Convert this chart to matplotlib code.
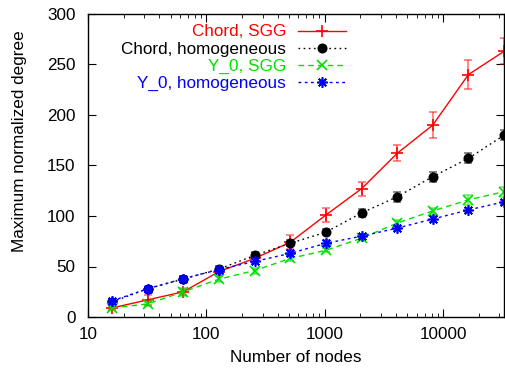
import matplotlib
matplotlib.use("Agg")
import matplotlib.pyplot as plt
from matplotlib.ticker import LogLocator, NullFormatter, FixedLocator

plt.rcParams['font.family'] = ['Liberation Sans', 'DejaVu Sans']

nodes = [16, 32, 64, 128, 256, 512, 1024, 2048, 4096, 8192, 16384, 32768]
chord_sgg = [9, 17, 25, 45, 58, 74, 101, 127, 162, 190, 240, 263]
chord_sgg_err = [2, 5, 3, 3, 5, 7, 7, 7, 8, 13, 14, 13]
chord_hom = [15, 28, 37.6, 47.5, 61, 73, 84, 103, 119, 139, 157, 180]
chord_hom_err = [2, 2, 3, 3, 3, 3, 3, 4, 5, 5, 5, 5]
y0_sgg = [9, 13, 25, 37.5, 46, 58, 66, 78, 93, 105, 116, 124]
y0_sgg_err = [2, 2, 4, 3, 3, 3, 2, 2, 3, 3, 5, 5]
y0_hom = [16, 28, 38, 47, 55, 63, 73, 80, 88, 97, 106, 114]
y0_hom_err = [2, 2, 2, 2, 3, 3, 3, 2, 2, 3, 2, 2]

labels = ["Chord, SGG", "Chord, homogeneous", "Y_0, SGG", "Y_0, homogeneous"]
colors = ["#ff0000", "#000000", "#00e000", "#0000ff"]

FS = 12.3
W, H = 505, 375
fig = plt.figure(figsize=(W/100, H/100), dpi=100)
ax = fig.add_axes([88/W, (H-317)/H, (504-88)/W, (317-14)/H])

series = [
    (chord_sgg, chord_sgg_err, '+', '-', 8, 1.0),
    (chord_hom, chord_hom_err, 'o', (0, (1.2, 2.5)), 6, 1.0),
    (y0_sgg, y0_sgg_err, 'x', (0, (4, 3)), 6.5, 1.0),
    (y0_hom, y0_hom_err, (8, 2, 0), (0, (2, 2.5)), 7.5, 1.0),
]
handles = []
for (vals, errs, mk, ls, ms, lw), lab, c in zip(series, labels, colors):
    ax.errorbar(nodes, vals, yerr=errs, fmt='none', ecolor=c, alpha=0.55,
                elinewidth=1.2, capsize=3, capthick=1.2)
    h, = ax.plot(nodes, vals, color=c, linestyle=ls, linewidth=1.0,
                 marker=mk, markersize=ms, markeredgewidth=1.2,
                 markerfacecolor=c, label=lab)
    handles.append(h)

ax.set_xscale('log')
ax.set_xlim(10, 32768)
ax.set_ylim(0, 300)
ax.set_yticks([0, 50, 100, 150, 200, 250, 300])
ax.xaxis.set_major_locator(FixedLocator([10, 100, 1000, 10000]))
ax.set_xticklabels(["10", "100", "1000", "10000"])
ax.xaxis.set_minor_locator(LogLocator(base=10, subs=range(2, 10)))
ax.xaxis.set_minor_formatter(NullFormatter())
ax.tick_params(which='both', direction='in', top=True, right=True, labelsize=FS)
ax.tick_params(which='major', length=6)
ax.tick_params(which='minor', length=3)
ax.tick_params(axis='x', pad=7.5)
ax.tick_params(axis='y', pad=9)
for s in ax.spines.values():
    s.set_linewidth(1.0)

ax.set_xlabel("Number of nodes", fontsize=FS, va='center')
ax.set_ylabel("Maximum normalized degree", fontsize=FS, va='center', ha='center')
ax.xaxis.set_label_coords(0.5, (317-357)/303)
ax.yaxis.set_label_coords((20-88)/416, (317-141)/303)

leg = ax.legend(handles=handles, loc='upper right',
                bbox_to_anchor=(346/W, (H-24.5)/H), bbox_transform=fig.transFigure,
                frameon=False, markerfirst=False, fontsize=FS,
                handlelength=48/(FS*100/72), labelspacing=0.12, borderaxespad=0,
                borderpad=0, handletextpad=12/(FS*100/72))
for t, c in zip(leg.get_texts(), colors):
    t.set_color(c)
leg._legend_box.align = 'right'
for col in leg._legend_handle_box.get_children():
    col.align = 'right'

fig.savefig("out.png", dpi=100)
